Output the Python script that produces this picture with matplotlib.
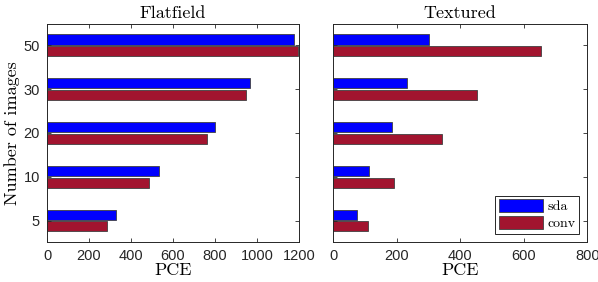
import numpy as np
import matplotlib.pyplot as plt

# data
n_images = ['5', '10', '20', '30', '50']
flat_sda = [330, 535, 800, 968, 1176]
flat_conv = [287, 484, 760, 947, 1194]
tex_sda = [76, 112, 184, 234, 302]
tex_conv = [111, 192, 344, 454, 653]

blue = '#0000FF'
red = '#A2142F'
serif = 'cmr10'

fig = plt.figure(figsize=(5.98, 2.82), dpi=100)
ax1 = fig.add_axes([0.0786, 0.142, 0.4214, 0.773])
ax2 = fig.add_axes([0.557, 0.142, 0.425, 0.773])

y = np.arange(len(n_images))
h = 0.23
off = 0.135

panels = [(ax1, flat_sda, flat_conv, 'Flatfield', 1200, [0, 200, 400, 600, 800, 1000, 1200]),
          (ax2, tex_sda, tex_conv, 'Textured', 800, [0, 200, 400, 600, 800])]

for ax, sda, conv, title, xmax, xt in panels:
    ax.barh(y + off, sda, height=h, color=blue, edgecolor='#404040', linewidth=0.6, label='sda')
    ax.barh(y - off, conv, height=h, color=red, edgecolor='#404040', linewidth=0.6, label='conv')
    ax.set_xlim(0, xmax)
    ax.set_ylim(-0.49, 4.49)
    ax.set_xticks(xt)
    ax.set_yticks(y)
    ax.set_title(title, fontsize=13, family=serif, pad=4)
    ax.set_xlabel('PCE', fontsize=13, family=serif, labelpad=0)
    ax.tick_params(direction='in', top=True, right=True, labelsize=10.5,
                   length=3, width=0.6, colors='#262626', pad=5)
    for lab in ax.get_xticklabels() + ax.get_yticklabels():
        lab.set_family('Liberation Sans')
    for s in ax.spines.values():
        s.set_linewidth(0.7)
        s.set_color('#262626')

ax1.set_yticklabels(n_images)
ax1.set_ylabel('Number of images', fontsize=13, family=serif, labelpad=3)
ax2.set_yticklabels([])

leg = ax2.legend(loc='lower right', prop={'family': serif, 'size': 10},
                 handlelength=3.2, handleheight=1.0, fancybox=False,
                 edgecolor='#262626', framealpha=1, borderpad=0.25,
                 labelspacing=0.2, handletextpad=0.3, borderaxespad=0.6)
leg.get_frame().set_linewidth(0.7)

fig.savefig('out.png', dpi=100)
